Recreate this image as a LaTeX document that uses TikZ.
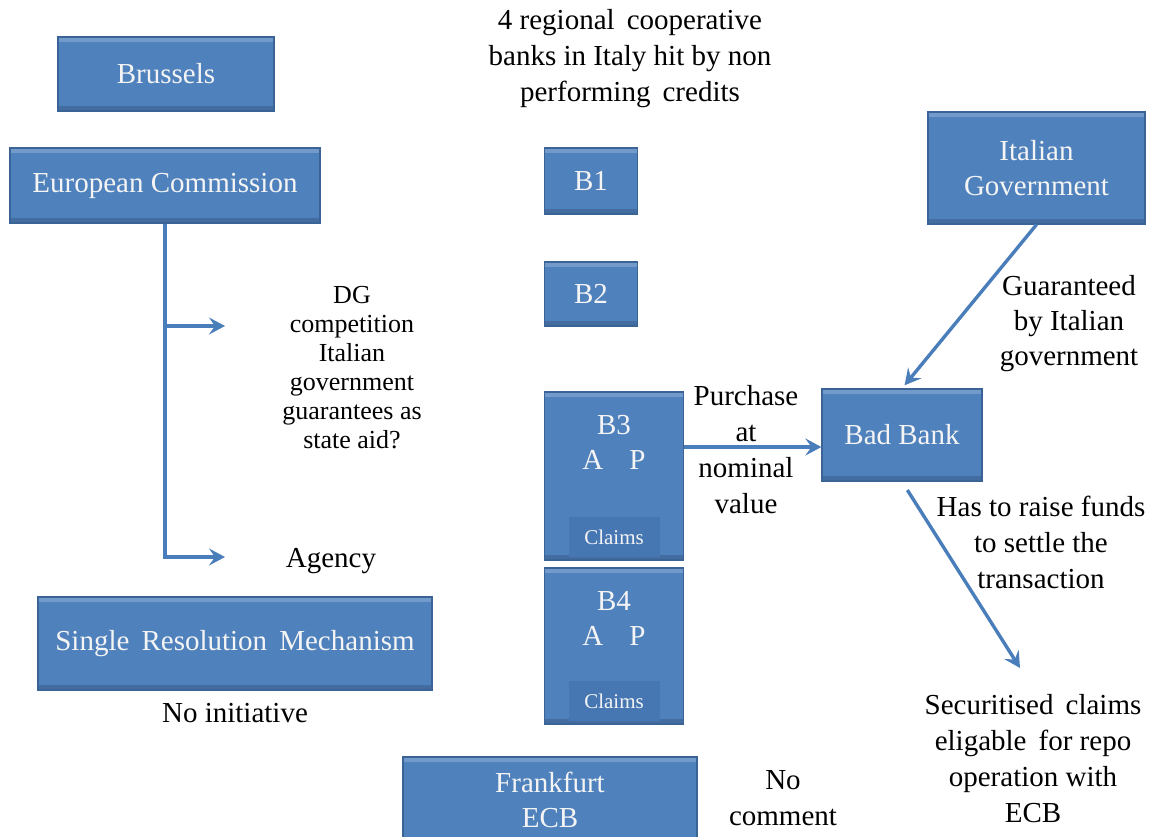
\documentclass[tikz,border=0pt]{standalone}
\usepackage{fontspec}
\setmainfont{Liberation Serif}
\usetikzlibrary{arrows.meta,positioning}

\definecolor{boxblue}{HTML}{4F81BD}
\definecolor{boxline}{HTML}{3A6396}
\definecolor{claimblue}{HTML}{4677B3}
\definecolor{boxtext}{HTML}{F4F4F4}
\definecolor{arrowblue}{HTML}{4A7EBB}

\newcommand\boxfont{\fontsize{29}{35}\selectfont}
\newcommand\notefont{\fontsize{29}{36}\selectfont}

\tikzset{
	box/.style={draw=boxline, line width=1.2pt, fill=boxblue, text=boxtext,
		font=\boxfont, align=center, inner sep=0pt,
		path picture={
			\fill[white, opacity=0.2] (path picture bounding box.north west)
				rectangle ([yshift=-5pt]path picture bounding box.north east);
			\fill[black, opacity=0.15] (path picture bounding box.south west)
				rectangle ([yshift=5pt]path picture bounding box.south east);
		}},
	claimbox/.style={fill=claimblue, text=boxtext, font=\fontsize{21}{24}\selectfont,
		minimum width=91pt, minimum height=40pt, inner sep=0pt},
	boxlabel/.style={text=boxtext, font=\boxfont, align=center, inner sep=0pt},
	note/.style={align=center, font=\notefont, inner sep=0pt},
	arr/.style={draw=arrowblue, line width=3.4pt,
		-{Stealth[length=16pt, width=17pt, inset=6pt]}},
}

\begin{document}
\begin{tikzpicture}[x=1pt, y=-1pt]

		\useasboundingbox (0,0) rectangle (1153,836);
		\clip (0,0) rectangle (1153,836);

		% Left column: Brussels
		\node[box, minimum width=216pt, minimum height=74pt] (brussels) at (166,74) {Brussels};
		\node[box, minimum width=310pt, minimum height=75pt] (ec) at (165,185.5) {European Commission};
		\node[note, font=\fontsize{26}{29}\selectfont] (dg) at (352,368)
			{DG\\competition\\Italian\\government\\guarantees as\\state aid?};
		\node[note] (agency) at (331,561) {Agency};
		\node[box, minimum width=394pt, minimum height=93pt] (srm) at (235,643.5) {Single\, Resolution\, Mechanism};
		\node[note, below=12pt of srm] (noinit) {No initiative};

		\coordinate (ecmid) at (165,326);
		\coordinate (dgtip) at (225,326);
		\coordinate (agtip) at (225,557);
		\draw[arr] (ec.south) |- (agtip);
		\draw[arr] (ecmid) -- (dgtip);

		% Middle column: the four banks
		\node[note] (regional) at (630,59) {4 regional\, cooperative\\banks in Italy hit by non\\performing\, credits};
		\node[box, minimum width=93pt, minimum height=66pt] (b1) at (591,181) {B1};
		\node[box, minimum width=93pt, minimum height=64pt] (b2) at (591,294) {B2};

		\foreach \n/\y/\h in {
				3/476/168,
				4/646/156
			} {
				\node[box, minimum width=139pt, minimum height=\h pt] (b\n) at (614,\y) {};
				\node[boxlabel] (ap\n) at ([yshift=-51pt]b\n.north) {B\n\\A\hspace{0.9em}P};
				\node[claimbox] (claims\n) at ([yshift=23.5pt]b\n.south) {Claims};
			}

		\node[box, minimum width=294pt, minimum height=86pt] (ecb) at (550,800) {Frankfurt\\ECB};
		\node[note] (nocomment) at (783,798) {No\\comment};

		% Right column: government and bad bank
		\node[box, minimum width=217pt, minimum height=112pt] (italgov) at (1036.5,168) {Italian\\Government};
		\node[box, minimum width=160pt, minimum height=92pt] (badbank) at (902,435) {Bad Bank};
		\node[note] (purchase) at (746,450) {Purchase\\at\\nominal\\value};
		\node[note, font=\fontsize{29}{35}\selectfont] (guarantee) at (1069,324) {Guaranteed\\by Italian\\government};
		\node[note] (funds) at (1041,542) {Has to raise funds\\to settle the\\transaction};
		\node[note] (securitised) at (1033,758.5) {Securitised\, claims\\eligable\, for repo\\operation with\\ECB};

		\coordinate (pbuy) at ([yshift=-12pt]badbank.west);
		\coordinate (sectip) at (1020,668);
		\draw[arr] (b3.east |- pbuy) -- (pbuy);
		\draw[arr, shorten >=4pt] (italgov.south) -- (badbank.north);
		\draw[arr, shorten <=10pt] (badbank.south) -- (sectip);

	\end{tikzpicture}
\end{document}
